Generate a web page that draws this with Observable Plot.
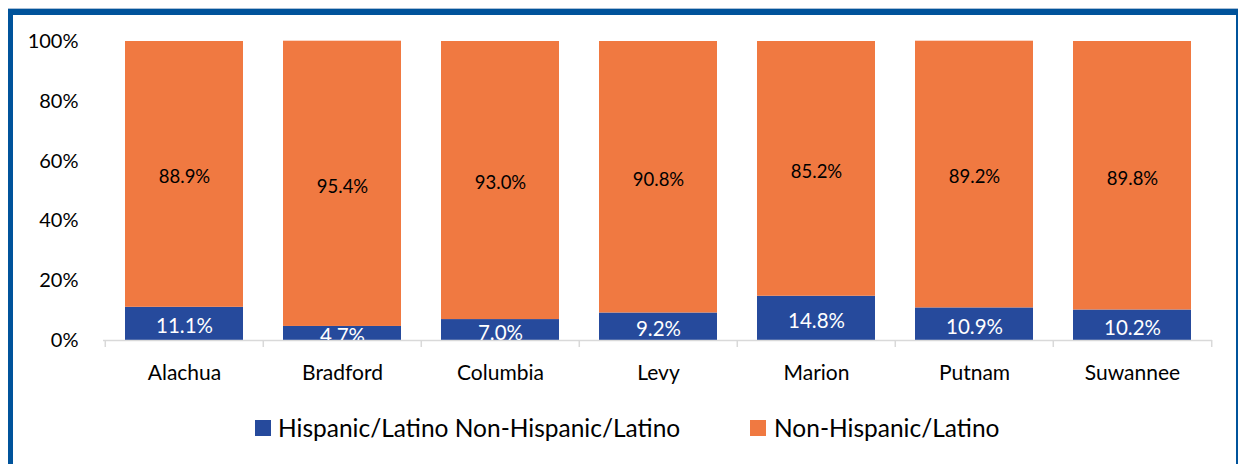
<!DOCTYPE html>
<html>
<head>
<meta charset="utf-8">
<script src="https://cdn.jsdelivr.net/npm/d3@7"></script>
<script src="https://cdn.jsdelivr.net/npm/@observablehq/plot@0.6"></script>
<style>
  html, body { margin: 0; padding: 0; background: #fff; width: 1239px; height: 464px; overflow: hidden; font-family: Lato, "Open Sans", sans-serif; }
  #frame { position: absolute; left: 8px; top: 9px; width: 1230px; height: 480px; box-sizing: border-box;
           border-top: 6px solid #00539B; border-left: 5px solid #00539B; border-right: 2px solid #00539B; }
  #topline { position: absolute; left: 8px; top: 8px; width: 1230px; height: 1px; background: #a9bfd6; }
  #chart { position: absolute; left: 0; top: 0; }
  .leg { position: absolute; top: 413px; font-size: 24.5px; color: #000; white-space: nowrap; line-height: 30px; }
  .sw { position: absolute; width: 16px; height: 16px; top: 420px; }
</style>
</head>
<body>
<div id="topline"></div>
<div id="frame"></div>
<div id="chart"></div>
<div class="sw" style="left:255px;background:#264A9C"></div>
<div class="leg" style="left:278px">Hispanic/Latino Non-Hispanic/Latino</div>
<div class="sw" style="left:750px;background:#F07941"></div>
<div class="leg" style="left:774px">Non-Hispanic/Latino</div>
<script>
const counties = ["Alachua", "Bradford", "Columbia", "Levy", "Marion", "Putnam", "Suwannee"];
const hispanic = [11.1, 4.7, 7.0, 9.2, 14.8, 10.9, 10.2];
const nonHispanic = [88.9, 95.4, 93.0, 90.8, 85.2, 89.2, 89.8];
const groups = ["Hispanic/Latino", "Non-Hispanic/Latino"];
const colors = ["#264A9C", "#F07941"];
const yTicks = [0, 20, 40, 60, 80, 100];

const rows = [];
counties.forEach((c, i) => {
  rows.push({county: c, group: groups[0], value: hispanic[i]});
  rows.push({county: c, group: groups[1], value: nonHispanic[i]});
});

const W = 1239, ML = 103, MR = 27;
const step = (W - ML - MR) / counties.length;

const chart = Plot.plot({
  width: W,
  height: 400,
  marginTop: 41,
  marginBottom: 60,
  marginLeft: ML,
  marginRight: MR,
  style: {fontFamily: "Lato, 'Open Sans', sans-serif", background: "transparent", overflow: "visible"},
  x: {domain: counties, paddingInner: 0.255, paddingOuter: 0.1275, label: null},
  y: {domain: [0, 100], label: null},
  color: {domain: groups, range: colors},
  marks: [
    Plot.barY(rows, {x: "county", y: "value", fill: "group"}),
    Plot.ruleY([0], {stroke: "#d9d9d9", strokeWidth: 1.5}),
    Plot.axisX(counties, {tickSize: 7, dx: -step / 2, stroke: "#d9d9d9", strokeWidth: 1.5, tickFormat: () => ""}),
    Plot.axisX([counties[counties.length - 1]], {tickSize: 7, dx: step / 2, stroke: "#d9d9d9", strokeWidth: 1.5, tickFormat: () => ""}),
    Plot.axisX({tickSize: 0, tickPadding: 25, fontSize: 21, fill: "#000", label: null}),
    Plot.axisY({ticks: yTicks, tickSize: 0, tickPadding: 25, fontSize: 20, fill: "#000", tickFormat: d => d + "%", label: null}),
    Plot.text(counties, {x: d => d, y: (d, i) => hispanic[i] / 2, text: (d, i) => hispanic[i].toFixed(1) + "%",
      fill: "white", fontSize: 20.5, dy: 3, clip: "frame"}),
    Plot.text(counties, {x: d => d, y: (d, i) => hispanic[i] + nonHispanic[i] / 2, text: (d, i) => nonHispanic[i].toFixed(1) + "%",
      fill: "black", fontSize: 18.5, dy: 3})
  ]
});
document.getElementById("chart").appendChild(chart);
</script>
</body>
</html>
